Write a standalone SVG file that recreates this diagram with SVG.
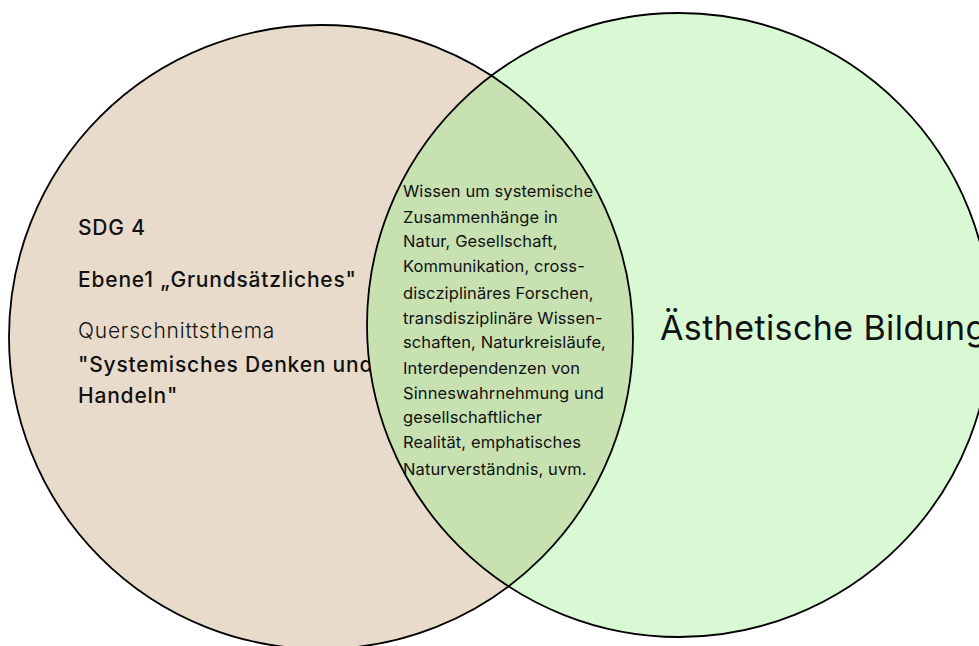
<svg xmlns="http://www.w3.org/2000/svg" width="979" height="646" viewBox="0 0 979 646">
<style>
.t{font-family:Inter,"Noto Sans",sans-serif;fill:#111}
.l{font-size:21px;font-weight:500;letter-spacing:0.8px}
.q{font-size:21px;font-weight:300;letter-spacing:0.8px}
.c{font-size:16.5px;font-weight:400;letter-spacing:0.1px}
.big{font-size:34px;font-weight:400;letter-spacing:0.4px}
.st{fill:none;stroke:#000;stroke-width:1.8}
</style>
<defs>
<clipPath id="rc"><circle cx="679" cy="325" r="312"/></clipPath>
</defs>
<rect width="979" height="646" fill="#fff"/>
<g id="left">
<circle cx="321" cy="337" r="312" fill="#e8dbcb"/>
<text class="t l" x="78" y="235">SDG 4</text>
<text class="t l" x="78" y="287">Ebene1 „Grundsätzliches"</text>
<text class="t q" x="78" y="338">Querschnittsthema</text>
<text class="t l" x="78" y="372">"Systemisches Denken und</text>
<text class="t l" x="78" y="403">Handeln"</text>
</g>
<g id="right">
<circle cx="679" cy="325" r="312" fill="#d9f9d4"/>
<text class="t big" x="660" y="340">Ästhetische Bildung</text>
</g>
<g id="overlap">
<circle cx="321" cy="337" r="312" fill="#c8e1b1" clip-path="url(#rc)"/>
<text class="t c" x="403" y="197">Wissen um systemische</text>
<text class="t c" x="403" y="223">Zusammenhänge in</text>
<text class="t c" x="403" y="247">Natur, Gesellschaft,</text>
<text class="t c" x="403" y="272">Kommunikation, cross-</text>
<text class="t c" x="403" y="299">discziplinäres Forschen,</text>
<text class="t c" x="403" y="324">transdisziplinäre Wissen-</text>
<text class="t c" x="403" y="348">schaften, Naturkreisläufe,</text>
<text class="t c" x="403" y="374">Interdependenzen von</text>
<text class="t c" x="403" y="399">Sinneswahrnehmung und</text>
<text class="t c" x="403" y="423">gesellschaftlicher</text>
<text class="t c" x="403" y="448">Realität, emphatisches</text>
<text class="t c" x="403" y="475">Naturverständnis, uvm.</text>
</g>
<g id="outlines">
<circle class="st" cx="321" cy="337" r="312"/>
<circle class="st" cx="679" cy="325" r="312"/>
</g>
</svg>
